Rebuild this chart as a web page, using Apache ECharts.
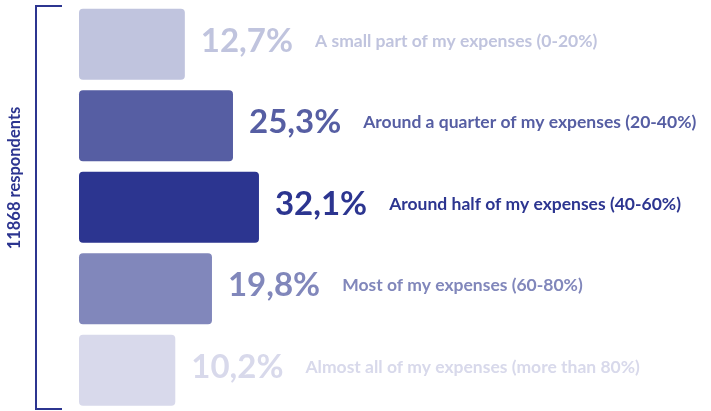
<!DOCTYPE html>
<html>
<head>
<meta charset="utf-8">
<script src="https://cdn.jsdelivr.net/npm/echarts@6/dist/echarts.min.js"></script>
<style>
  html, body { margin: 0; padding: 0; background: #fff; }
  #box { width: 711px; height: 411px; }
</style>
</head>
<body>
<div id="box"></div>
<script>
const categories = [
  'A small part of my expenses (0-20%)',
  'Around a quarter of my expenses (20-40%)',
  'Around half of my expenses (40-60%)',
  'Most of my expenses (60-80%)',
  'Almost all of my expenses (more than 80%)'
];
const shares = [12.7, 25.3, 32.1, 19.8, 10.2];
const respondents = '11868 respondents';

const colors = ['#c0c4de', '#565ea3', '#2c3590', '#8187bb', '#d8d9eb'];
// bars grow out of a short base to the left of zero
const X_MIN = -15;

const fmt = v => v.toFixed(1).replace('.', ',') + '%';

const chart = echarts.init(document.getElementById('box'));

chart.setOption({
  animation: false,
  grid: { left: 79, right: 0, top: 3.5, height: 413.4 },
  xAxis: { type: 'value', min: X_MIN, max: 150.4, show: false },
  yAxis: { type: 'category', data: categories, inverse: true, show: false },
  graphic: [
    {
      type: 'polyline',
      shape: { points: [[62, 6], [36, 6], [36, 409], [62, 409]] },
      style: { stroke: '#2c3590', lineWidth: 2, fill: null }
    },
    {
      type: 'text',
      x: 15, y: 178,
      rotation: Math.PI / 2,
      style: {
        text: respondents,
        fill: '#2c3590',
        font: 'bold 16.5px Lato',
        align: 'center',
        verticalAlign: 'middle'
      }
    }
  ],
  series: [{
    type: 'custom',
    data: shares.map((v, i) => [v, i]),
    encode: { x: 0, y: 1 },
    renderItem: (params, api) => {
      const v = api.value(0);
      const i = api.value(1);
      const start = api.coord([X_MIN, i]);
      const end = api.coord([v, i]);
      const h = api.size([0, 1])[1] * 0.871;
      const c = colors[i];
      return {
        type: 'group',
        children: [
          {
            type: 'rect',
            shape: { x: start[0], y: start[1] - h / 2, width: end[0] - start[0], height: h, r: 4 },
            style: { fill: c }
          },
          {
            type: 'text',
            x: end[0] + 16,
            y: end[1] - 3,
            style: {
              text: '{p|' + fmt(v) + '}{s|}{d|' + categories[i] + '}',
              align: 'left',
              verticalAlign: 'middle',
              rich: {
                p: { fontSize: 33, fontWeight: 'bold', fontFamily: 'Lato', fill: c, verticalAlign: 'middle' },
                s: { width: 22 },
                d: { fontSize: 17.5, fontWeight: 'bold', fontFamily: 'Lato', fill: c, verticalAlign: 'middle' }
              }
            }
          }
        ]
      };
    }
  }]
});
</script>
</body>
</html>
